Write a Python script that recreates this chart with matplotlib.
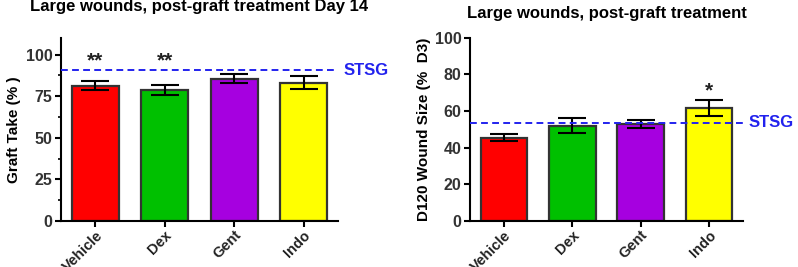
import matplotlib.pyplot as plt
import numpy as np

plt.rcParams["font.family"] = ["Liberation Sans", "DejaVu Sans"]
plt.rcParams["font.weight"] = "bold"

groups = ["Vehicle", "Dex", "Gent", "Indo"]
colors = ["#ff0000", "#00c000", "#a600e0", "#ffff00"]

# Left panel: graft take (%)
take_mean = [81.2, 79.0, 85.5, 83.0]
take_err = [2.7, 3.0, 2.6, 3.9]
take_stsg = 90.6
take_stars = ["**", "**", "", ""]
take_star_y = 96.5

# Right panel: D120 wound size (% D3)
size_mean = [45.5, 52.0, 52.8, 61.6]
size_err = [2.0, 4.1, 2.1, 4.5]
size_stsg = 53.7
size_stars = ["", "", "", "*"]
size_star_y = 71.0

fig = plt.figure(figsize=(7.98, 2.67), dpi=100)
ax1 = fig.add_axes([0.076, 0.172, 0.348, 0.686])
ax2 = fig.add_axes([0.589, 0.172, 0.342, 0.687])


def draw_panel(ax, means, errs, stsg, stars, star_y, ylim, yticks, ylabel, title, title_y):
    x = np.arange(len(groups))
    ax.bar(x, means, width=0.68, color=colors, edgecolor="#333333", linewidth=1.6, zorder=2)
    ax.errorbar(x, means, yerr=errs, fmt="none", ecolor="black", elinewidth=1.5,
                capsize=10, capthick=1.5, zorder=3)
    ax.axhline(stsg, color="#2222ee", linestyle=(0, (3.5, 2.2)), linewidth=1.4, zorder=4)
    ax.text(1.02, stsg, "STSG", transform=ax.get_yaxis_transform(), color="#2222ee",
            fontsize=12, fontweight="bold", va="center", ha="left", clip_on=False)
    for xi, s in zip(x, stars):
        if s:
            ax.text(xi, star_y, s, ha="center", va="center", fontsize=15,
                    fontweight="bold", color="#222222")
    ax.set_xlim(-0.5, 3.5)
    ax.set_ylim(*ylim)
    ax.set_yticks(yticks)
    ax.set_xticks(x)
    ax.set_xticklabels(groups, rotation=45, ha="right", rotation_mode="anchor",
                       fontsize=10.5, fontweight="bold", color="#222222")
    for lab in ax.get_yticklabels():
        lab.set_fontsize(11.5)
        lab.set_fontweight("bold")
        lab.set_color("#333333")
    ax.set_ylabel(ylabel, fontsize=11, fontweight="bold", labelpad=3)
    for side in ["top", "right"]:
        ax.spines[side].set_visible(False)
    for side in ["left", "bottom"]:
        ax.spines[side].set_linewidth(1.5)
    ax.tick_params(axis="both", which="major", direction="out", length=4, width=1.5, pad=2)
    ax.tick_params(axis="x", which="major", pad=1)
    ax.tick_params(axis="y", which="minor", direction="out", length=2.5, width=1.2)
    pos = ax.get_position()
    fig.text((pos.x0 + pos.x1) / 2, title_y, title,
             ha="center", va="center", fontsize=12, fontweight="bold")


draw_panel(ax1, take_mean, take_err, take_stsg, take_stars, take_star_y, (0, 110),
           [0, 25, 50, 75, 100], "Graft Take (% )",
           "Large wounds, post-graft treatment Day 14", 0.975)
ax1.set_yticks([12.5, 37.5, 62.5, 87.5], minor=True)

draw_panel(ax2, size_mean, size_err, size_stsg, size_stars, size_star_y, (0, 100),
           [0, 20, 40, 60, 80, 100], "D120 Wound Size (%  D3)",
           "Large wounds, post-graft treatment", 0.95)

fig.savefig("out.png", dpi=100)
